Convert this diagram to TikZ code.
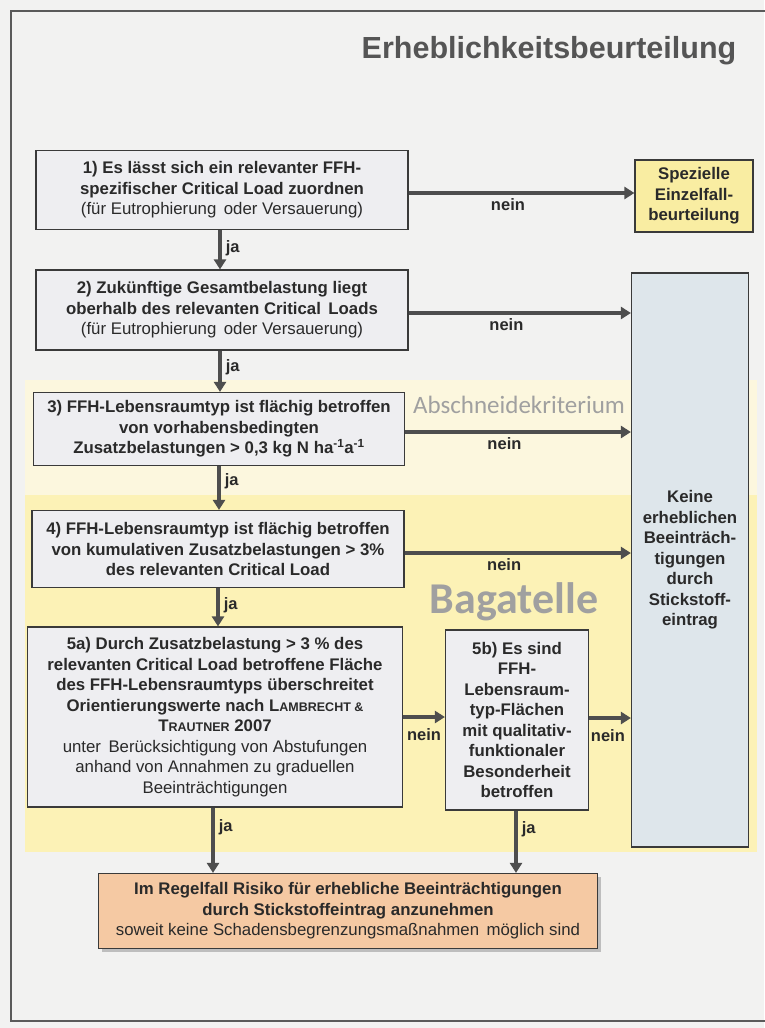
\documentclass[tikz,border=0pt]{standalone}
\usepackage{fontspec}
\setmainfont{Liberation Sans}
\newfontfamily\calfont{Carlito}
\usetikzlibrary{arrows.meta,shadows}

\definecolor{pagebg}{HTML}{F2F2F1}
\definecolor{framecol}{HTML}{5A5A5A}
\definecolor{boxline}{HTML}{3A3A3A}
\definecolor{boxfill}{HTML}{EEEEF1}
\definecolor{bluefill}{HTML}{DEE6EB}
\definecolor{specfill}{HTML}{F9EDA2}
\definecolor{riskfill}{HTML}{F5C9A3}
\definecolor{bandlight}{HTML}{FCF7DE}
\definecolor{bandstrong}{HTML}{FCF2B6}
\definecolor{arrowcol}{HTML}{4E4E4E}
\definecolor{txt}{HTML}{2A2A2A}
\definecolor{greytext}{HTML}{A0A0A0}
\definecolor{titlecol}{HTML}{555555}

\begin{document}
\begin{tikzpicture}[x=1pt,y=-1pt,
  box/.style={draw=boxline, line width=1.2pt, fill=boxfill, inner sep=0pt,
    align=center, text=txt, font=\fontsize{16.8}{20.5}\selectfont},
  flow/.style={-{Triangle[length=10pt,width=12pt]}, line width=3.6pt, draw=arrowcol},
  lab/.style={font=\bfseries\fontsize{16.5}{18}\selectfont, text=txt, inner sep=1pt}]

% page and frame
\useasboundingbox (0,0) rectangle (764,1028);
\fill[pagebg] (0,0) rectangle (764,1028);

% background bands
\fill[bandlight] (25,380) rectangle (757,495);
\fill[bandstrong] (25,495) rectangle (757,852);

\draw[framecol, line width=1.2pt] (11,11) rectangle (780,1021);

% headings inside the bands
\node[font=\bfseries\fontsize{30.5}{34}\selectfont, text=titlecol, anchor=base]
  (title) at (549,58) {Erheblichkeitsbeurteilung};
\node[font=\calfont\fontsize{25}{28}\selectfont, text=greytext, anchor=base]
  (abschn) at (519,413) {Abschneidekriterium};
\node[font=\calfont\bfseries\fontsize{44}{48}\selectfont, text=greytext, anchor=base]
  (bagatelle) at (514,613) {Bagatelle};

% decision boxes
\node[box, minimum width=372, minimum height=79] (b1) at (222,190)
  {\textbf{1) Es lässt sich ein relevanter FFH-}\\
   \textbf{spezifischer Critical Load zuordnen}\\
   (für Eutrophierung\, oder Versauerung)};
\node[box, minimum width=372, minimum height=80] (b2) at (222,310)
  {\textbf{2) Zukünftige Gesamtbelastung liegt}\\
   \textbf{oberhalb des relevanten Critical\, Loads}\\
   (für Eutrophierung\, oder Versauerung)};
\node[box, minimum width=371, minimum height=73] (b3) at (219,429)
  {\textbf{3) FFH-Lebensraumtyp ist flächig betroffen}\\
   \textbf{von vorhabensbedingten}\\
   \textbf{Zusatzbelastungen > 0,3 kg N ha\textsuperscript{-1}a\textsuperscript{-1}}};
\node[box, minimum width=372, minimum height=77] (b4) at (218,549)
  {\textbf{4) FFH-Lebensraumtyp ist flächig betroffen}\\
   \textbf{von kumulativen Zusatzbelastungen > 3\%}\\
   \textbf{des relevanten Critical Load}};
\node[box, minimum width=375, minimum height=180] (b5a) at (215,717)
  {\textbf{5a) Durch Zusatzbelastung > 3 \% des}\\
   \textbf{relevanten Critical Load betroffene Fläche}\\
   \textbf{des FFH-Lebensraumtyps überschreitet}\\
   \textbf{Orientierungswerte nach L{\fontsize{12.5}{14}\selectfont AMBRECHT \&}}\\
   \textbf{T{\fontsize{12.5}{14}\selectfont RAUTNER} 2007}\\
   unter\, Berücksichtigung von Abstufungen\\
   anhand von Annahmen zu graduellen\\
   Beeinträchtigungen};
\node[box, minimum width=143, minimum height=180] (b5b) at (517,720)
  {\textbf{5b) Es sind}\\ \textbf{FFH-}\\ \textbf{Lebensraum-}\\ \textbf{typ-Flächen}\\
   \textbf{mit qualitativ-}\\ \textbf{funktionaler}\\ \textbf{Besonderheit}\\ \textbf{betroffen}};

% outcome boxes
\node[box, fill=specfill, minimum width=118, minimum height=72] (spec) at (694,196)
  {\textbf{Spezielle}\\ \textbf{Einzelfall-}\\ \textbf{beurteilung}};
\node[box, fill=bluefill, minimum width=117, minimum height=574] (keine) at (690,560)
  {\textbf{Keine}\\ \textbf{erheblichen}\\ \textbf{Beeinträch-}\\ \textbf{tigungen}\\
   \textbf{durch}\\ \textbf{Stickstoff-}\\ \textbf{eintrag}};
\node[box, fill=riskfill, minimum width=499, minimum height=75,
  drop shadow={shadow xshift=3pt, shadow yshift=-3pt, opacity=0.45}] (risk) at (348,911)
  {\textbf{Im Regelfall Risiko für erhebliche Beeinträchtigungen}\\
   \textbf{durch Stickstoffeintrag anzunehmen}\\
   soweit keine Schadensbegrenzungsmaßnahmen\, möglich sind};

% "nein" branches
\draw[flow] ([yshift=-3pt]b1.east) -- ([yshift=-3pt]b1.east -| spec.west)
  node[lab, below=3pt, pos=.44] {nein};
\draw[flow] ([yshift=-3pt]b2.east) -- ([yshift=-3pt]b2.east -| keine.west)
  node[lab, below=3pt, pos=.44] {nein};
\draw[flow] ([yshift=-3pt]b3.east) -- ([yshift=-3pt]b3.east -| keine.west)
  node[lab, below=3pt, pos=.44] {nein};
\draw[flow] ([yshift=-4pt]b4.east) -- ([yshift=-4pt]b4.east -| keine.west)
  node[lab, below=3pt, pos=.44] {nein};
\draw[flow] (b5a.east) -- (b5a.east -| b5b.west)
  node[lab, below=9pt, pos=.5] {nein};
\draw[flow] ([yshift=2pt]b5b.east) -- ([yshift=2pt]b5b.east -| keine.west)
  node[lab, below=9pt, pos=.45] {nein};

% "ja" branches
\draw[flow] ([xshift=-2pt]b1.south) -- ([xshift=-2pt]b1.south |- b2.north)
  node[lab, right=3pt, pos=.45] {ja};
\draw[flow] ([xshift=-2pt]b2.south) -- ([xshift=-2pt]b2.south |- b3.north)
  node[lab, right=3pt, pos=.4] {ja};
\draw[flow] (b3.south) -- (b3.south |- b4.north)
  node[lab, right=3pt, pos=.35] {ja};
\draw[flow] (b4.south) -- (b4.south |- b5a.north)
  node[lab, right=3pt, pos=.45] {ja};
\draw[flow] ([xshift=-2pt]b5a.south) -- ([xshift=-2pt]b5a.south |- risk.north)
  node[lab, right=3pt, pos=.3] {ja};
\draw[flow] ([xshift=-1pt]b5b.south) -- ([xshift=-1pt]b5b.south |- risk.north)
  node[lab, right=3pt, pos=.3] {ja};
\end{tikzpicture}
\end{document}
